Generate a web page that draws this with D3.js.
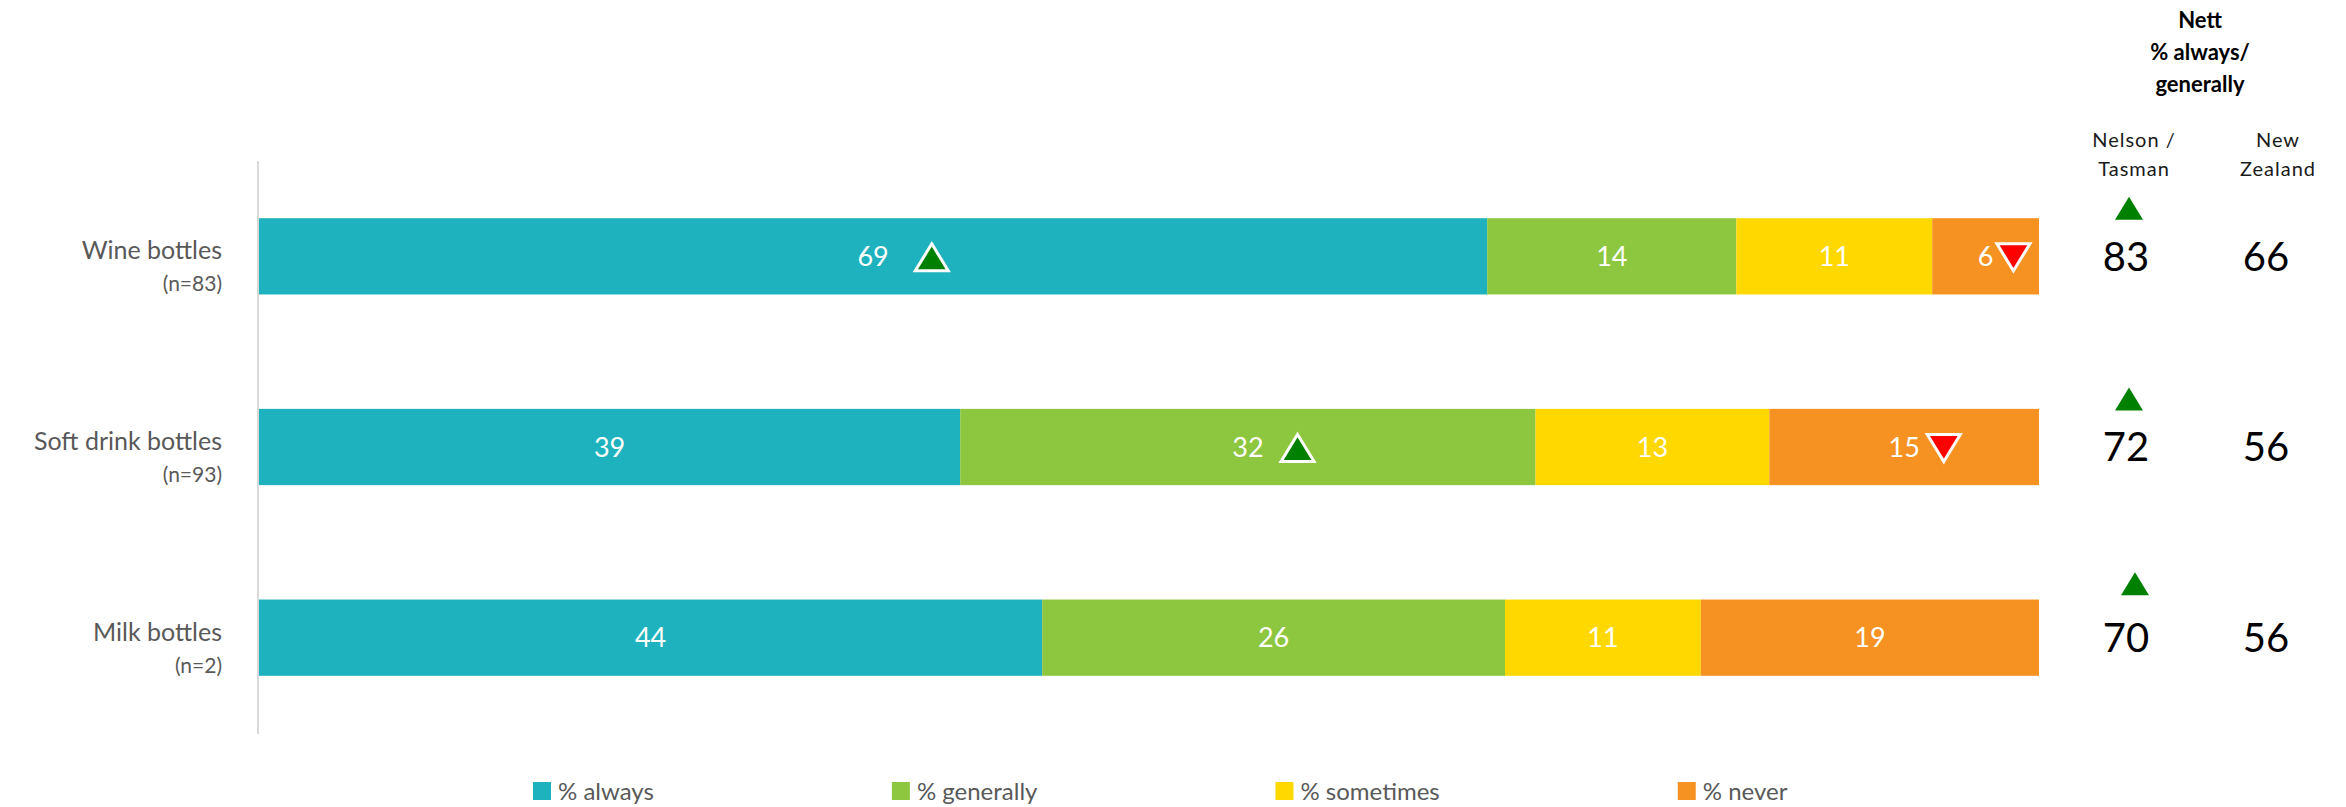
<!DOCTYPE html>
<html>
<head>
<meta charset="utf-8">
<script src="https://cdn.jsdelivr.net/npm/d3@7"></script>
<style>
  html, body { margin: 0; padding: 0; background: #ffffff; }
  svg { display: block; font-family: Lato, "Open Sans", sans-serif; }
</style>
</head>
<body>
<svg id="chart" width="2346" height="807"></svg>
<script>
// Bottle types and base sizes
const categories = ["Wine bottles", "Soft drink bottles", "Milk bottles"];
const baseSizes = ["(n=83)", "(n=93)", "(n=2)"];

// Response shares (%), one array per answer
const seriesKeys = ["always", "generally", "sometimes", "never"];
const seriesNames = ["% always", "% generally", "% sometimes", "% never"];
const always = [69, 39, 44];
const generally = [14, 32, 26];
const sometimes = [11, 13, 11];
const never = [6, 15, 19];

// Nett % always/generally
const nettRegion = [83, 72, 70];
const nettNZ = [66, 56, 56];
const nettRegionSig = ["up", "up", "up"];

// Significance flags on bar segments
const markers = [
  { row: 0, key: "always", dir: "up" },
  { row: 0, key: "never", dir: "down" },
  { row: 1, key: "generally", dir: "up" },
  { row: 1, key: "never", dir: "down" }
];
const markerGap = [26, 3, 17, 7];

const colors = ["#1DB2BD", "#8DC63F", "#FFD800", "#F59222"];

const svg = d3.select("#chart");

// 100% stacked: each row is normalised by its own total
const rows = categories.map((c, i) => {
  const vals = [always[i], generally[i], sometimes[i], never[i]];
  const total = d3.sum(vals);
  let acc = 0;
  const segs = vals.map((v, k) => {
    const s = { key: seriesKeys[k], value: v, x0: acc / total, x1: (acc + v) / total, k };
    acc += v;
    return s;
  });
  return { cat: c, n: baseSizes[i], segs, i };
});

const x = d3.scaleLinear().domain([0, 1]).range([259, 2039]);
const y = d3.scaleBand().domain(categories).range([161, 733]).paddingInner(0.6).paddingOuter(0.3);

// vertical category axis line
svg.append("line")
  .attr("x1", 258).attr("x2", 258)
  .attr("y1", 161).attr("y2", 734)
  .attr("stroke", "#d9d9d9").attr("stroke-width", 2);

const rowG = svg.selectAll("g.row").data(rows).join("g").attr("class", "row");

rowG.selectAll("rect").data(d => d.segs.map(s => ({ ...s, cat: d.cat })))
  .join("rect")
  .attr("x", s => x(s.x0))
  .attr("width", s => x(s.x1) - x(s.x0))
  .attr("y", s => y(s.cat))
  .attr("height", y.bandwidth())
  .attr("fill", s => colors[s.k]);

const valueLabels = rowG.selectAll("text.val").data(d => d.segs.map(s => ({ ...s, cat: d.cat, row: d.i })))
  .join("text")
  .attr("class", "val")
  .attr("x", s => (x(s.x0) + x(s.x1)) / 2)
  .attr("y", s => y(s.cat) + y.bandwidth() / 2)
  .attr("dy", "0.36em")
  .attr("text-anchor", "middle")
  .attr("fill", "#ffffff")
  .attr("font-size", 27)
  .text(s => s.value);

// category labels
rowG.append("text")
  .attr("x", 222)
  .attr("y", d => y(d.cat) + y.bandwidth() / 2 + 3)
  .attr("text-anchor", "end")
  .attr("fill", "#595959")
  .attr("font-size", 25)
  .text(d => d.cat);
rowG.append("text")
  .attr("x", 222)
  .attr("y", d => y(d.cat) + y.bandwidth() / 2 + 35)
  .attr("text-anchor", "end")
  .attr("fill", "#595959")
  .attr("font-size", 21)
  .text(d => d.n);

// triangle path centred at origin
function tri(w, h, dir) {
  return dir === "up"
    ? `M0,${-h / 2}L${w / 2},${h / 2}L${-w / 2},${h / 2}Z`
    : `M0,${h / 2}L${w / 2},${-h / 2}L${-w / 2},${-h / 2}Z`;
}

markers.forEach((m, j) => {
  const label = valueLabels.filter(s => s.row === m.row && s.key === m.key);
  const bb = label.node().getBBox();
  const cx = bb.x + bb.width + markerGap[j] + 17;
  const cy = y(categories[m.row]) + y.bandwidth() / 2 + 1;
  svg.append("path")
    .attr("transform", `translate(${cx},${cy})`)
    .attr("d", tri(33, 27, m.dir))
    .attr("fill", m.dir === "up" ? "#008000" : "#FF0000")
    .attr("stroke", "#ffffff")
    .attr("stroke-width", 3)
    .attr("stroke-linejoin", "miter");
});

// nett columns
const colRegion = 2126, colNZ = 2266;

const header = svg.append("g").attr("font-weight", "bold").attr("fill", "#000").attr("font-size", 22).attr("text-anchor", "middle");
["Nett", "% always/", "generally"].forEach((t, i) => {
  header.append("text").attr("x", 2200).attr("y", 28 + i * 32).text(t);
});

const sub = svg.append("g").attr("fill", "#1a1a1a").attr("font-size", 20).attr("text-anchor", "middle").attr("letter-spacing", "1px");
[["Nelson /", "Tasman", colRegion + 8], ["New", "Zealand", colNZ + 12]].forEach(([a, b, cx]) => {
  sub.append("text").attr("x", cx).attr("y", 147).text(a);
  sub.append("text").attr("x", cx).attr("y", 176).text(b);
});

rows.forEach((r, i) => {
  const cy = y(r.cat) + y.bandwidth() / 2;
  svg.append("text").attr("x", colRegion).attr("y", cy).attr("dy", "0.36em")
    .attr("text-anchor", "middle").attr("font-size", 40).attr("fill", "#000").text(nettRegion[i]);
  svg.append("text").attr("x", colNZ).attr("y", cy).attr("dy", "0.36em")
    .attr("text-anchor", "middle").attr("font-size", 40).attr("fill", "#000").text(nettNZ[i]);
  if (nettRegionSig[i]) {
    svg.append("path")
      .attr("transform", `translate(${colRegion + 3 + (i === 2 ? 6 : 0)},${cy - 48 - (i === 2 ? 6 : 0)})`)
      .attr("d", tri(28, 23, nettRegionSig[i]))
      .attr("fill", "#008000");
  }
});

// legend
const legend = svg.append("g").attr("font-size", 24).attr("fill", "#595959");
let lx = 533;
seriesNames.forEach((name, k) => {
  legend.append("rect").attr("x", lx).attr("y", 782).attr("width", 18).attr("height", 18).attr("fill", colors[k]);
  const t = legend.append("text").attr("x", lx + 25).attr("y", 800).text(name);
  lx += 25 + t.node().getComputedTextLength() + 238;
});
</script>
</body>
</html>
